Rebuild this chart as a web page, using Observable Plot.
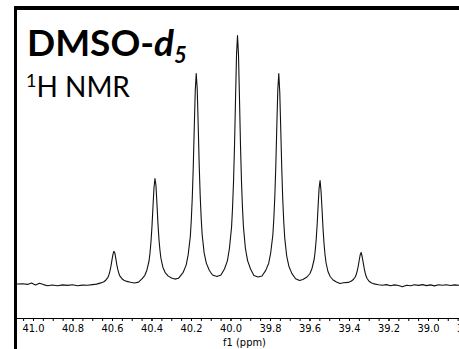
<!DOCTYPE html>
<html>
<head>
<meta charset="utf-8">
<script src="https://cdn.jsdelivr.net/npm/d3@7"></script>
<script src="https://cdn.jsdelivr.net/npm/@observablehq/plot@0.6"></script>
<style>
  html, body { margin: 0; padding: 0; background: #fff; }
  #chart { position: relative; width: 459px; height: 349px; overflow: hidden; }
  #box { position: absolute; left: 14px; top: 6px; width: 442px;
         border-left: 3px solid #000; border-top: 4px solid #000; }
  #box svg { display: block; overflow: hidden; }
</style>
</head>
<body>
<div id="chart"><div id="box"></div></div>
<script>
// Chemical shift (ppm) of each sampled point along the trace, left to right
const shift = [
  41.081, 41.056, 41.030, 41.010, 40.990, 40.970, 40.949, 40.929, 40.904, 40.878,
  40.853, 40.828, 40.803, 40.777, 40.752, 40.727, 40.701, 40.681,
  40.659, 40.644, 40.634, 40.623, 40.618, 40.613, 40.608, 40.603, 40.598, 40.593,
  40.588, 40.583, 40.578, 40.573, 40.568, 40.563, 40.552, 40.542, 40.527,
  40.509, 40.489, 40.468,
  40.451, 40.436, 40.426, 40.415, 40.410, 40.405, 40.400, 40.395, 40.390, 40.385,
  40.380, 40.375, 40.370, 40.365, 40.360, 40.355, 40.345, 40.334, 40.319,
  40.301, 40.284, 40.266,
  40.242, 40.227, 40.217, 40.206, 40.201, 40.196, 40.191, 40.186, 40.181, 40.176,
  40.171, 40.166, 40.161, 40.156, 40.151, 40.146, 40.136, 40.125, 40.110,
  40.094, 40.071, 40.051,
  40.033, 40.018, 40.008, 39.997, 39.992, 39.987, 39.982, 39.977, 39.972, 39.967,
  39.962, 39.957, 39.952, 39.947, 39.942, 39.937, 39.927, 39.916, 39.901,
  39.884, 39.863, 39.843,
  39.824, 39.809, 39.799, 39.788, 39.783, 39.778, 39.773, 39.768, 39.763, 39.758,
  39.753, 39.748, 39.743, 39.738, 39.733, 39.728, 39.718, 39.707, 39.692,
  39.673, 39.653, 39.636,
  39.615, 39.600, 39.590, 39.579, 39.574, 39.569, 39.564, 39.559, 39.554, 39.549,
  39.544, 39.539, 39.534, 39.529, 39.524, 39.519, 39.509, 39.498, 39.483,
  39.466, 39.448, 39.430,
  39.407, 39.392, 39.382, 39.371, 39.366, 39.361, 39.356, 39.351, 39.346, 39.341,
  39.336, 39.331, 39.326, 39.321, 39.316, 39.311, 39.301, 39.290, 39.275,
  39.253, 39.233, 39.213, 39.192, 39.172, 39.152, 39.132, 39.111, 39.091, 39.071,
  39.051, 39.030, 39.010, 38.990, 38.970, 38.949, 38.929, 38.909, 38.889, 38.868,
  38.843
];

// Signal intensity (arbitrary units) at each shift above
const intensity = [
  1.5, 1.8, 1.1, 2.4, 0.6, 2.3, 0.9, -0.3, 0.5, -0.2,
  0.6, 0.1, 0.8, -0.3, 0.4, 0.2, 0.9, 1.4,
  2.6, 3.7, 5.3, 8.2, 10.8, 14.3, 19.1, 25.2, 30.9, 34.2,
  32.4, 26.7, 20.6, 15.8, 12.3, 9.7, 6.8, 5.2, 4.1,
  3.2, 2.5, 3.4,
  6.6, 10.2, 15.3, 24.5, 32.7, 44, 59.4, 78.9, 97.3, 107,
  100.3, 81.9, 62.4, 47, 35.7, 27.5, 18.3, 13.2, 9.6,
  7.5, 6.4, 7.2,
  13.2, 20.4, 30.6, 49, 65.5, 88, 118.8, 157.7, 194.6, 212,
  196.6, 159.7, 120.8, 90, 67.5, 51, 32.6, 22.4, 15.2,
  10.5, 9, 10.5,
  16.5, 24.9, 37, 58.8, 78.2, 104.8, 141.1, 187, 230.6, 250,
  230.6, 187, 141.1, 104.8, 78.2, 58.8, 37, 24.9, 16.5,
  10, 8.5, 9.5,
  15.1, 22.3, 32.5, 50.8, 67.2, 89.6, 120.2, 159, 195.7, 212,
  192.7, 156, 117.2, 86.6, 64.2, 47.8, 29.5, 19.3, 12.1,
  6.8, 5.0, 6.0,
  8.5, 12, 17, 26, 34, 45, 60, 79, 97, 105,
  94, 76, 57, 42, 31, 23, 14, 9, 5.5,
  3.5, 2.0, 2.7,
  3.1, 4.2, 5.7, 8.5, 11, 14.4, 19, 25, 30.5, 33,
  29, 23.4, 17.6, 12.9, 9.5, 7, 4.2, 2.7, 1.6,
  0.8, 0.2, 0.9, -0.2, 0.6, 0.0, -1.2, 0.3, -0.3, 0.7,
  0.1, 0.9, -0.1, 0.6, -0.4, 0.8, 0.2, 0.7, 0.0, 0.6,
  0.2
];

// Labelled ticks on the f1 axis
const majorTicks = [41.0, 40.8, 40.6, 40.4, 40.2, 40.0, 39.8, 39.6, 39.4, 39.2, 39.0, 38.8];
// Unlabelled ticks every 0.05 ppm
const minorTicks = d3.range(0, 45).map(i => +(41.05 - i * 0.05).toFixed(2));

const xDomain = [41.081, 38.843];
const yDomain = [-33, 275];

const spectrum = shift.map((s, i) => ({shift: s, intensity: intensity[i]}));

const axisFont = "'DejaVu Sans Condensed', 'DejaVu Sans', sans-serif";

const plot = Plot.plot({
  width: 442,
  height: 339,
  marginTop: 0,
  marginRight: 0,
  marginBottom: 31,
  marginLeft: 0,
  style: {background: "transparent", color: "#000", fontFamily: axisFont, fontSize: "11px"},
  x: {domain: xDomain, label: null},
  y: {domain: yDomain, axis: null},
  marks: [
    Plot.ruleY([yDomain[0]], {stroke: "#000", strokeWidth: 1}),
    Plot.axisX({ticks: minorTicks, tickSize: 3, tickFormat: () => "", label: null}),
    Plot.axisX({ticks: majorTicks, tickSize: 3, tickPadding: 3, tickFormat: d => d.toFixed(1),
                fontSize: 11, label: null}),
    Plot.line(spectrum, {x: "shift", y: "intensity", stroke: "#111", strokeWidth: 1.1}),
    Plot.text(["f1 (ppm)"], {text: d => d, frameAnchor: "bottom", lineAnchor: "middle",
                             dx: 6, dy: 23.5, fontSize: 11})
  ]
});

// Sample name and experiment, set inside the frame's top-left corner
const svg = d3.select(plot);
const titleFont = "Lato, 'Open Sans', sans-serif";
const name = svg.append("text")
  .attr("x", 10).attr("y", 46).attr("text-anchor", "start")
  .attr("font-family", titleFont).attr("font-weight", 700).attr("font-size", 37).attr("fill", "#000");
name.append("tspan").text("DMSO-");
name.append("tspan").attr("font-style", "italic").text("d");
name.append("tspan").attr("font-style", "italic").attr("font-size", 22).attr("dy", 7).text("5");

const expt = svg.append("text")
  .attr("x", 9).attr("y", 87).attr("text-anchor", "start")
  .attr("font-family", titleFont).attr("font-size", 28).attr("fill", "#000");
expt.append("tspan").attr("font-size", 18).attr("dy", -10).text("1");
expt.append("tspan").attr("dy", 10).text("H NMR");

document.getElementById("box").appendChild(plot);
</script>
</body>
</html>
